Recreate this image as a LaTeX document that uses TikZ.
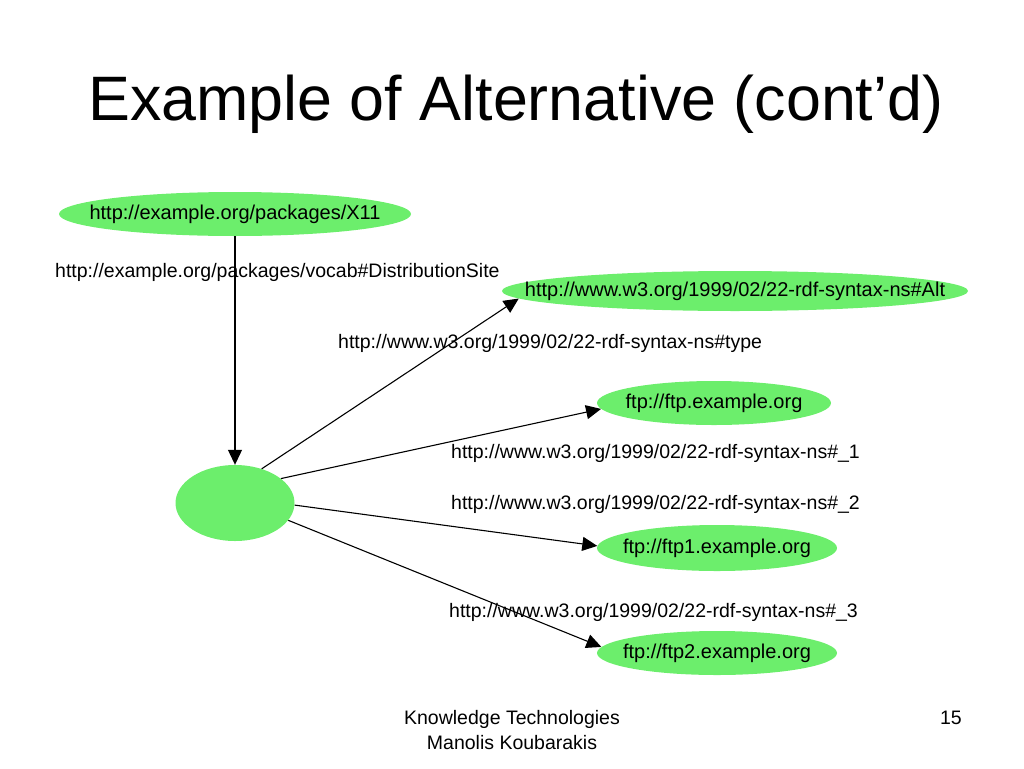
\documentclass[tikz,border=0pt]{standalone}
\usepackage{fontspec}
\setmainfont{Liberation Sans}
\usetikzlibrary{shapes.geometric,arrows.meta}
\definecolor{nodegreen}{RGB}{108,238,108}
\tikzset{
  rnode/.style={ellipse,fill=nodegreen,draw=none,inner sep=0pt},
  ntext/.style={font=\fontsize{20}{24}\selectfont,text=black},
  elabel/.style={font=\fontsize{19.5}{23}\selectfont,anchor=base west,inner sep=0pt},
  edge/.style={line width=1.1pt,-{Triangle[length=15pt,width=14pt]}},
}
\begin{document}
\begin{tikzpicture}[x=1pt,y=-1pt]
\useasboundingbox (0,0) rectangle (1024,768);
% title
\node[anchor=base west,inner sep=0pt,font=\fontsize{62.8}{70}\selectfont] (title) at (88,120) {Example of Alternative (cont’d)};
% nodes
\node[rnode,minimum width=352pt,minimum height=44pt,label={[ntext]center:http://example.org/packages/X11}] (x11) at (235,214) {};
\node[rnode,minimum width=466pt,minimum height=40pt,label={[ntext]center:http://www.w3.org/1999/02/22-rdf-syntax-ns\#Alt}] (alt) at (735,291) {};
\node[rnode,minimum width=234pt,minimum height=44pt,label={[ntext]center:ftp://ftp.example.org}] (ftp) at (714,403) {};
\node[rnode,minimum width=240pt,minimum height=46pt,label={[ntext]center:ftp://ftp1.example.org}] (ftp1) at (717,548) {};
\node[rnode,minimum width=240pt,minimum height=44pt,label={[ntext]center:ftp://ftp2.example.org}] (ftp2) at (717,653) {};
\node[rnode,minimum width=119pt,minimum height=76pt] (blank) at (235,503) {};
% edges
\draw[edge] (x11.south) -- (blank.north);
\draw[edge] (blank.52) -- (alt.182);
\draw[edge] (blank.28) -- (ftp.183);
\draw[edge] (blank.-2) -- (ftp1.179);
\draw[edge] (blank.-18) -- (ftp2.177);
% edge labels
\node[elabel] (l0) at (55,277) {http://example.org/packages/vocab\#DistributionSite};
\node[elabel] (l1) at (338,348) {http://www.w3.org/1999/02/22-rdf-syntax-ns\#type};
\node[elabel] (l2) at (451,458) {http://www.w3.org/1999/02/22-rdf-syntax-ns\#\_1};
\node[elabel] (l3) at (451,509) {http://www.w3.org/1999/02/22-rdf-syntax-ns\#\_2};
\node[elabel] (l4) at (449,617) {http://www.w3.org/1999/02/22-rdf-syntax-ns\#\_3};
% footer
\node[anchor=base,inner sep=0pt,font=\fontsize{19.5}{23}\selectfont] (f1) at (512,724) {Knowledge Technologies};
\node[anchor=base,inner sep=0pt,font=\fontsize{19.5}{23}\selectfont] (f2) at (512,749) {Manolis Koubarakis};
\node[anchor=base east,inner sep=0pt,font=\fontsize{19.5}{23}\selectfont] (pg) at (962,724) {15};
\end{tikzpicture}
\end{document}
